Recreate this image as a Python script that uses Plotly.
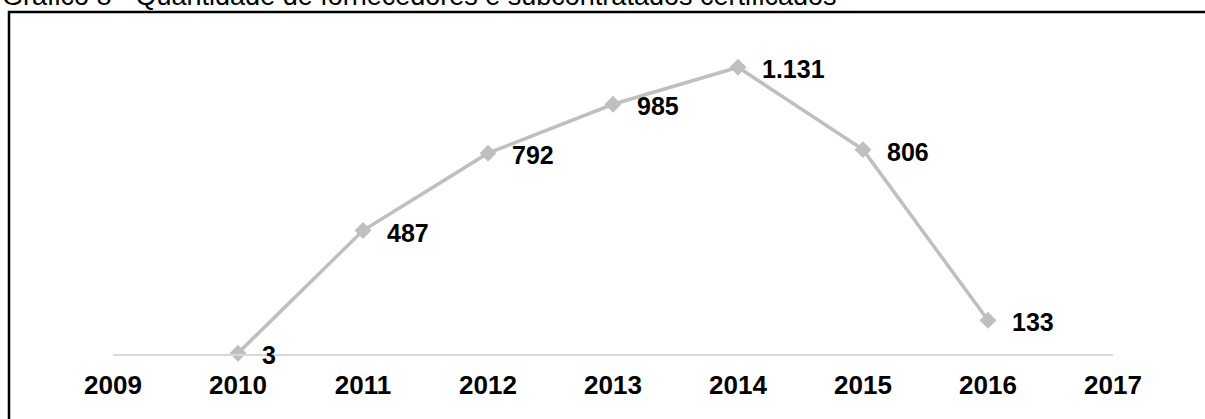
import plotly.graph_objects as go

# Certified suppliers and subcontractors per year
years = [2010, 2011, 2012, 2013, 2014, 2015, 2016]
certified = [3, 487, 792, 985, 1131, 806, 133]
tick_years = [2009, 2010, 2011, 2012, 2013, 2014, 2015, 2016, 2017]
tick_labels = ["2009", "2010", "2011", "2012", "2013", "2014", "2015", "2016", "2017"]
title_text = "Gráfico 8 - Quantidade de fornecedores e subcontratados certificados"

W, H = 1205, 419
ML, MR, MT, MB = 113, 92, 50, 65
PW, PH = W - ML - MR, H - MT - MB


def px_x(p):
    return (p - ML) / PW


def px_y(p):
    return (H - MB - p) / PH


FONT = "Liberation Sans, Arial, sans-serif"
GREY = "#bfbfbf"

fig = go.Figure()
fig.add_trace(go.Scatter(
    x=years, y=certified,
    mode="lines+markers",
    line=dict(color=GREY, width=3.5),
    marker=dict(symbol="diamond", size=13, color=GREY),
    cliponaxis=False,
    hoverinfo="skip",
    showlegend=False,
))

# Value labels to the right of each point
for yr, v in zip(years, certified):
    fig.add_annotation(
        x=yr, y=v, xref="x", yref="y",
        text=f"<b>{v:,}</b>".replace(",", "."),
        showarrow=False, xanchor="left", yanchor="middle",
        xshift=22, yshift=-2,
        font=dict(family=FONT, size=25, color="black"),
    )

# Caption above the frame
fig.add_annotation(
    x=px_x(0), y=px_y(-4), xref="paper", yref="paper",
    text=title_text, showarrow=False,
    xanchor="left", yanchor="middle",
    font=dict(family=FONT, size=27, color="black"),
)

# Frame around the chart
fig.add_shape(
    type="rect", xref="paper", yref="paper",
    x0=px_x(9), x1=px_x(1220), y0=px_y(12), y1=px_y(440),
    line=dict(color="black", width=2.5), fillcolor="rgba(0,0,0,0)",
    layer="below",
)

fig.update_layout(
    width=W, height=H,
    margin=dict(l=ML, r=MR, t=MT, b=MB, pad=0),
    paper_bgcolor="white", plot_bgcolor="white",
    separators=",.",
    xaxis=dict(
        range=[2009, 2017], tickvals=tick_years, ticktext=tick_labels,
        showgrid=False, zeroline=False,
        showline=True, linecolor="#d9d9d9", linewidth=2,
        ticks="", tickfont=dict(family=FONT, size=26, color="black", weight="bold"),
        ticklabelstandoff=7,
    ),
    yaxis=dict(range=[0, 1199], visible=False),
)

fig.write_html("out.html")
